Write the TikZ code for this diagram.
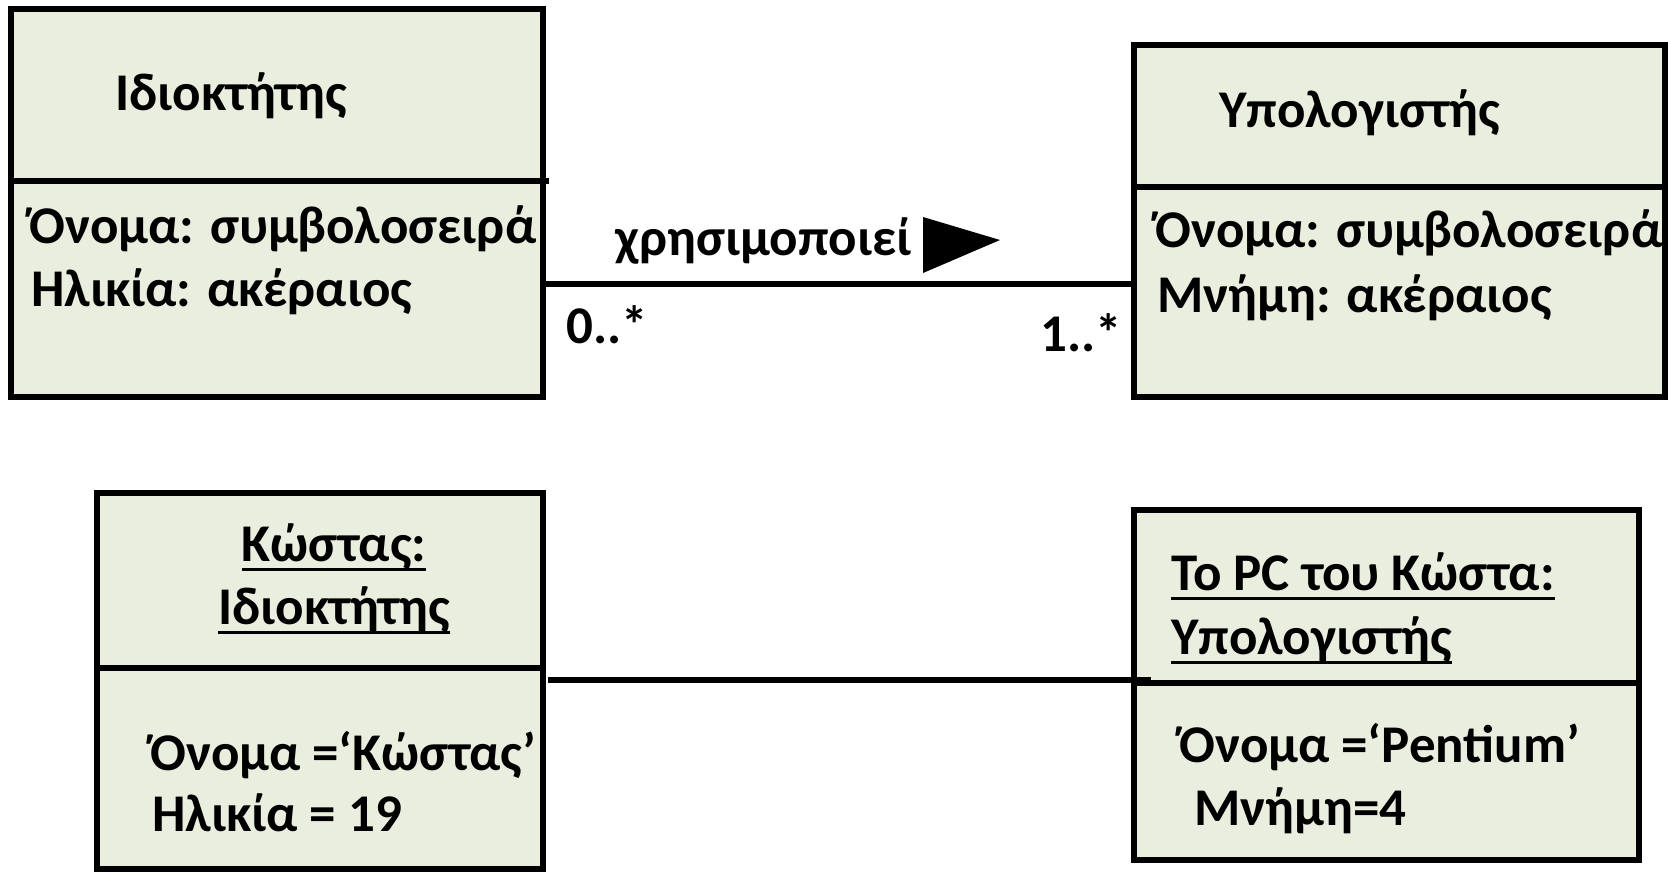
\documentclass[tikz,border=0pt]{standalone}
\usepackage{fontspec}
\setmainfont{Carlito}
\definecolor{boxfill}{RGB}{234,238,222}
% underline at a fixed depth below the baseline
\newcommand\ulin[1]{\setbox0\hbox{#1}\rlap{\rule[-4.8pt]{\wd0}{1.4pt}}\box0}
\begin{document}
\begin{tikzpicture}[x=0.5pt,y=-0.5pt,
  umlbox/.style={draw, line width=2.9pt, fill=boxfill, rectangle, inner sep=0pt, outer sep=0pt, anchor=north west},
  divider/.style={line width=2.7pt},
  link/.style={line width=2.6pt},
  txt/.style={inner sep=0pt, anchor=base west, font=\fontsize{26.5}{31}\selectfont\bfseries},
  ctxt/.style={txt, anchor=base}]
\useasboundingbox (0,0) rectangle (1668,873);

% class boxes
\node[umlbox, minimum width=266pt, minimum height=194pt] (own) at (11,9) {};
\node[umlbox, minimum width=265.5pt, minimum height=176pt] (comp) at (1134,45) {};
% object boxes
\node[umlbox, minimum width=223pt, minimum height=188pt] (kostas) at (97,493) {};
\node[umlbox, minimum width=252.5pt, minimum height=175pt] (pc) at (1134,510) {};

% compartments
\draw[divider] (own.west |- 0,181) -- ([xshift=3pt]own.east |- 0,181);
\draw[divider] (comp.west |- 0,187) -- (comp.east |- 0,187);
\draw[divider] (kostas.west |- 0,668) -- ([xshift=1pt]kostas.east |- 0,668);
\draw[divider] (pc.west |- 0,683) -- (pc.east |- 0,683);

% class texts
\node[txt] (ownname) at (115,110) {Ιδιοκτήτης};
\node[txt] (owna1) at (29,243) {Όνομα: συμβολοσειρά};
\node[txt] (owna2) at (31,306) {Ηλικία: ακέραιος};

\node[txt] (compname) at (1219,127) {Υπολογιστής};
\node[txt] (compa1) at (1155,247) {Όνομα: συμβολοσειρά};
\node[txt] (compa2) at (1157,312) {Μνήμη: ακέραιος};

% association
\coordinate (assocA) at (own.east |- 0,284);
\coordinate (assocB) at (comp.west |- 0,284);
\draw[link] (assocA) -- (assocB);
\node[txt] (uses) at (615,255) {χρησιμοποιεί};
\fill (923,217) -- (923,273) -- (1000,240) -- cycle;
\node[txt] (multA) at (566,343) {0..*};
\node[txt] (multB) at (1040,351) {1..*};

% object texts
\node[ctxt] (kname1) at (334,561) {\ulin{Κώστας:}};
\node[ctxt] (kname2) at (334,624) {\ulin{Ιδιοκτήτης}};
\node[txt] (ka1) at (150,770) {Όνομα =‘Κώστας’};
\node[txt] (ka2) at (152,831) {Ηλικία = 19};

\node[txt] (pcname1) at (1171,590) {\ulin{Το PC του Κώστα:}};
\node[txt] (pcname2) at (1171,654) {\ulin{Υπολογιστής}};
\node[txt] (pca1) at (1179,762) {Όνομα =‘Pentium’};
\node[txt] (pca2) at (1194,825) {Μνήμη=4};

% link between the objects
\coordinate (linkA) at ([xshift=2.5pt]kostas.east |- 0,680);
\coordinate (linkB) at ([xshift=8.5pt]pc.west |- 0,680);
\draw[link] (linkA) -- (linkB);
\end{tikzpicture}
\end{document}
